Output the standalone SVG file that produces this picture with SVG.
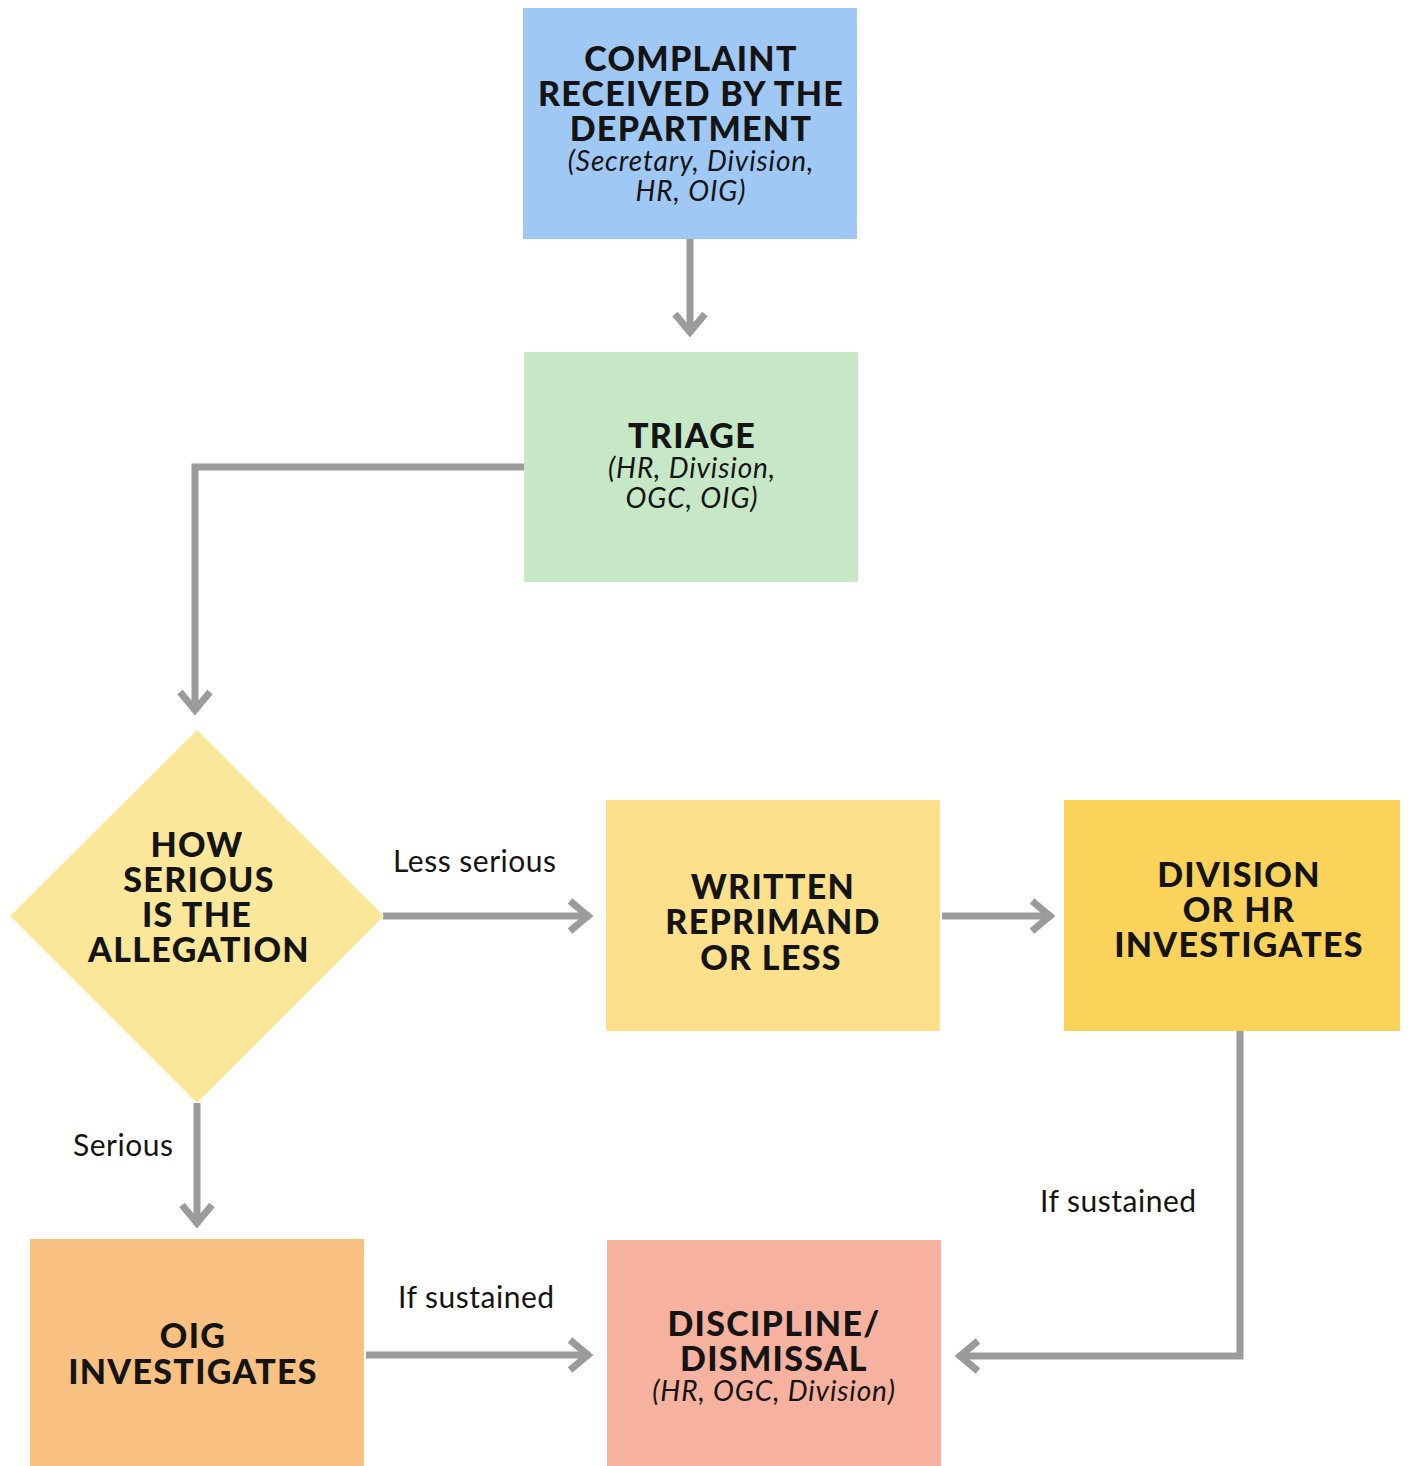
<svg xmlns="http://www.w3.org/2000/svg" width="1408" height="1466" viewBox="0 0 1408 1466">
<defs>
<style>
.h{font-family:Lato,"Open Sans","Liberation Sans",sans-serif;font-weight:900;font-size:34px;letter-spacing:1.3px;fill:#141414;text-anchor:middle}
.s{font-family:Lato,"Open Sans","Liberation Sans",sans-serif;font-weight:400;font-style:italic;font-size:28px;letter-spacing:0.9px;fill:#141414}
.l{font-family:Lato,"Open Sans","Liberation Sans",sans-serif;font-size:30px;letter-spacing:0.5px;fill:#141414}
.c{fill:none;stroke:#9b9b9b;stroke-width:7}
</style>
<marker id="chev" markerUnits="userSpaceOnUse" viewBox="-30 -20 34 40" refX="0" refY="0" markerWidth="34" markerHeight="40" orient="auto">
<path d="M-20,-15 L-2,0 L-20,15" fill="none" stroke="#9b9b9b" stroke-width="7"/>
</marker>
</defs>
<rect width="1408" height="1466" fill="#ffffff"/>
<g id="connectors">
<path class="c" d="M690,239 V334" marker-end="url(#chev)"/>
<path class="c" d="M524,467 H195 V712" marker-end="url(#chev)"/>
<path class="c" d="M383,916 H590" marker-end="url(#chev)"/>
<path class="c" d="M942,916 H1052" marker-end="url(#chev)"/>
<path class="c" d="M1240,1031 V1356 H958" marker-end="url(#chev)"/>
<path class="c" d="M197,1103 V1225" marker-end="url(#chev)"/>
<path class="c" d="M366,1355 H590" marker-end="url(#chev)"/>
</g>
<g id="complaint">
<rect x="523" y="8" width="334" height="231" fill="#a0c8f4"/>
<text class="h"><tspan x="691" y="71">COMPLAINT</tspan><tspan x="691" y="106">RECEIVED BY THE</tspan><tspan x="691" y="141">DEPARTMENT</tspan><tspan class="s" x="691" y="171">(Secretary, Division,</tspan><tspan class="s" x="691" y="201">HR, OIG)</tspan></text>
</g>
<g id="triage">
<rect x="524" y="352" width="334" height="230" fill="#c7e8c6"/>
<text class="h"><tspan x="692" y="448">TRIAGE</tspan><tspan class="s" x="692" y="478">(HR, Division,</tspan><tspan class="s" x="692" y="508">OGC, OIG)</tspan></text>
</g>
<g id="decision">
<polygon points="197,730 384,916 197,1103 10,916" fill="#fbe79a"/>
<text class="h"><tspan x="197" y="857">HOW</tspan><tspan x="199" y="892">SERIOUS</tspan><tspan x="197" y="927">IS THE</tspan><tspan x="199" y="962">ALLEGATION</tspan></text>
</g>
<g id="written">
<rect x="606" y="800" width="334" height="231" fill="#fde08b"/>
<text class="h"><tspan x="773" y="899">WRITTEN</tspan><tspan x="773" y="934">REPRIMAND</tspan><tspan x="771" y="970">OR LESS</tspan></text>
</g>
<g id="division">
<rect x="1064" y="800" width="336" height="231" fill="#fcd35a"/>
<text class="h"><tspan x="1239" y="887">DIVISION</tspan><tspan x="1239" y="922">OR HR</tspan><tspan x="1239" y="957">INVESTIGATES</tspan></text>
</g>
<g id="oig">
<rect x="30" y="1239" width="334" height="227" fill="#f9c181"/>
<text class="h"><tspan x="193" y="1348">OIG</tspan><tspan x="193" y="1384">INVESTIGATES</tspan></text>
</g>
<g id="discipline">
<rect x="607" y="1240" width="334" height="226" fill="#f7b19f"/>
<text class="h"><tspan x="774" y="1336">DISCIPLINE/</tspan><tspan x="774" y="1371">DISMISSAL</tspan><tspan class="s" x="774" y="1401">(HR, OGC, Division)</tspan></text>
</g>
<g id="labels">
<text class="l" x="393" y="872">Less serious</text>
<text class="l" x="73" y="1156">Serious</text>
<text class="l" x="398" y="1308">If sustained</text>
<text class="l" x="1040" y="1212">If sustained</text>
</g>
</svg>
